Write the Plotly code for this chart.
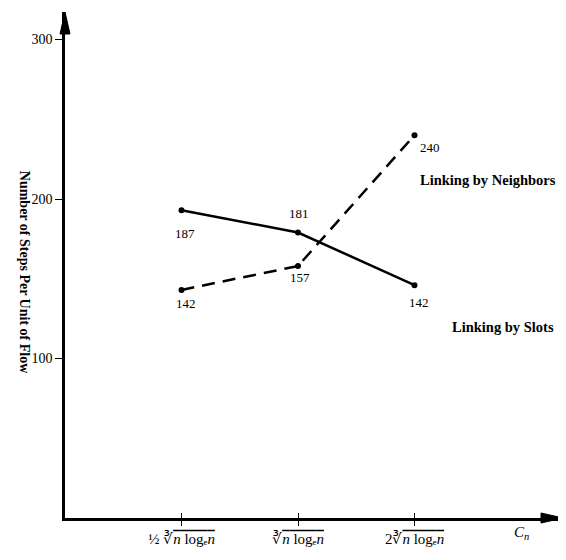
import plotly.graph_objects as go

# ---- data ----
x_positions = [1, 2, 3]
tick_labels = [
    "½ ∛<span style='text-decoration:overline'><i>n</i> logₑ<i>n</i></span>",
    "∛<span style='text-decoration:overline'><i>n</i> logₑ<i>n</i></span>",
    "2∛<span style='text-decoration:overline'><i>n</i> logₑ<i>n</i></span>",
]
slots_values = [193, 179, 146]
slots_labels = ["187", "181", "142"]
neighbors_values = [143, 158, 240]
neighbors_labels = ["142", "157", "240"]
y_ticks = [100, 200, 300]

SERIF = "Liberation Serif, Times New Roman, serif"

fig = go.Figure()
fig.add_trace(go.Scatter(
    x=x_positions, y=slots_values, mode="lines+markers",
    line=dict(color="black", width=2.5),
    marker=dict(color="black", size=6),
    cliponaxis=False, showlegend=False, name="Linking by Slots"))
fig.add_trace(go.Scatter(
    x=x_positions, y=neighbors_values, mode="lines+markers",
    line=dict(color="black", width=2.5, dash="13px,8px"),
    marker=dict(color="black", size=6),
    cliponaxis=False, showlegend=False, name="Linking by Neighbors"))

annotations = []
slot_offsets = [(3, -23), (1, 19), (4, -17)]
nb_offsets = [(4, -14), (2, -12), (15, -12)]
for xv, yv, lab, (dx, dy) in zip(x_positions, slots_values, slots_labels, slot_offsets):
    annotations.append(dict(x=xv, y=yv, text=lab, showarrow=False, xshift=dx, yshift=dy,
                            font=dict(family=SERIF, size=13, color="black")))
for xv, yv, lab, (dx, dy) in zip(x_positions, neighbors_values, neighbors_labels, nb_offsets):
    annotations.append(dict(x=xv, y=yv, text=lab, showarrow=False, xshift=dx, yshift=dy,
                            font=dict(family=SERIF, size=13, color="black")))

annotations.append(dict(x=3.63, y=212, text="<b>Linking by Neighbors</b>", showarrow=False,
                        font=dict(family=SERIF, size=14.5, color="black")))
annotations.append(dict(x=3.76, y=120, text="<b>Linking by Slots</b>", showarrow=False,
                        font=dict(family=SERIF, size=14.5, color="black")))
annotations.append(dict(xref="paper", yref="paper", x=-0.1, y=(518 - 272.5) / 506,
                        text="<b>Number of Steps Per Unit of Flow</b>",
                        textangle=90, showarrow=False,
                        font=dict(family=SERIF, size=14, color="black")))
annotations.append(dict(xref="paper", yref="paper", x=(531.7 - 65.5) / 498, y=(518 - 533) / 506,
                        yanchor="middle",
                        text="<i>C<sub>n</sub></i>", showarrow=False,
                        font=dict(family=SERIF, size=15, color="black")))

# arrowheads (decoration) in paper coordinates
W, H = 498, 506
shapes = [
    dict(type="path", xref="paper", yref="paper",
         path=f"M {0} {1} L {-5/W} {1-22/H} L {5/W} {1-22/H} Z",
         fillcolor="black", line=dict(color="black", width=1)),
    dict(type="path", xref="paper", yref="paper",
         path=f"M {1} {0} L {1-22/W} {5/H} L {1-22/W} {-5/H} Z",
         fillcolor="black", line=dict(color="black", width=1)),
]

fig.update_layout(
    width=558, height=552,
    margin=dict(l=57, r=3, t=4, b=42),
    paper_bgcolor="white", plot_bgcolor="white",
    font=dict(family=SERIF, color="black"),
    xaxis=dict(range=[0, 498 / 116.5], tickmode="array", tickvals=x_positions, ticktext=tick_labels,
               showgrid=False, zeroline=False, showline=True, linecolor="black", linewidth=2.5,
               ticks="outside", ticklen=5, tickwidth=1, tickcolor="black",
               tickfont=dict(family=SERIF, size=15, color="black")),
    xaxis2=dict(range=[0, 498 / 116.5], overlaying="x", tickmode="array", tickvals=x_positions,
                showticklabels=False, showgrid=False, zeroline=False, showline=False,
                ticks="inside", ticklen=5, tickwidth=1, tickcolor="black", side="bottom",
                anchor="y"),
    yaxis=dict(range=[0, 506 / 1.595], tickmode="array", tickvals=y_ticks,
               showgrid=False, zeroline=False, showline=True, linecolor="black", linewidth=2.5,
               ticks="outside", ticklen=7, tickwidth=1, tickcolor="black",
               tickfont=dict(family=SERIF, size=14, color="black")),
    annotations=annotations,
    shapes=shapes,
)
# dummy trace to activate xaxis2
fig.add_trace(go.Scatter(x=[None], y=[None], xaxis="x2", showlegend=False, hoverinfo="skip"))

fig.write_html("out.html")
